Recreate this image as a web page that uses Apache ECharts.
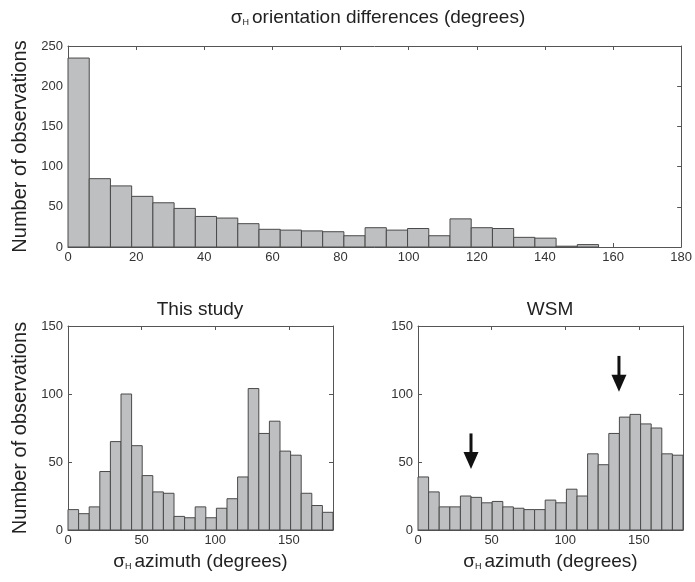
<!DOCTYPE html>
<html>
<head>
<meta charset="utf-8">
<script src="https://cdn.jsdelivr.net/npm/echarts@6/dist/echarts.min.js"></script>
<style>
html, body { margin: 0; padding: 0; background: #fff; }
#chart { width: 695px; height: 582px; }
</style>
</head>
<body>
<div id="chart"></div>
<script>
// 上图: 方向差直方图 (25 bins)
var diffBinWidth = 6.23;
var diffCounts = [235, 85, 76, 63, 55, 48, 38, 36, 29, 22, 21, 20, 19, 14, 24, 21, 23, 14, 35, 24, 23, 12, 11, 1, 3];

// 下图: 方位角直方图 (0-180, 25 bins)
var aziBinWidth = 7.2;
var studyCounts = [15, 12, 17, 43, 65, 100, 62, 40, 28, 27, 10, 9, 17, 9, 16, 23, 39, 104, 71, 80, 58, 55, 27, 18, 13];
var wsmCounts = [39, 28, 17, 17, 25, 24, 20, 21, 17, 16, 15, 15, 22, 20, 30, 25, 56, 48, 71, 83, 85, 78, 75, 56, 55];

// WSM 图中的箭头 (x, 箭尾, 箭头)
var arrowX = [36, 136.5];
var arrowTop = [71, 128];
var arrowTip = [44.8, 101.7];

var FONT = '"Liberation Sans", Arial, Helvetica, sans-serif';
var BOX = '#555';
var TXT = '#222';

// bins -> [start, end, count]
function toBins(counts, w) {
	var out = [];
	for (var i = 0; i < counts.length; i++) {
		out.push([i * w, (i + 1) * w, counts[i]]);
	}
	return out;
}

function renderBar(params, api) {
	var p0 = api.coord([api.value(0), api.value(2)]);
	var p1 = api.coord([api.value(1), 0]);
	return {
		type: 'rect',
		shape: { x: p0[0], y: p0[1], width: p1[0] - p0[0], height: p1[1] - p0[1] },
		style: { fill: '#bebfc1', stroke: '#4a4a4a', lineWidth: 1 }
	};
}

function renderArrow(params, api) {
	var top = api.coord([api.value(0), api.value(1)]);
	var tip = api.coord([api.value(0), api.value(2)]);
	var headH = 17, headW = 15;
	return {
		type: 'group',
		children: [{
			type: 'line',
			shape: { x1: top[0], y1: top[1], x2: tip[0], y2: tip[1] - headH + 2 },
			style: { stroke: '#111', lineWidth: 3 }
		}, {
			type: 'polygon',
			shape: { points: [[tip[0] - headW / 2, tip[1] - headH], [tip[0] + headW / 2, tip[1] - headH], [tip[0], tip[1]]] },
			style: { fill: '#111' }
		}]
	};
}

var sigmaRich = {
	s: { fontSize: 19, fontFamily: FONT, color: TXT },
	h: { fontSize: 9, fontFamily: FONT, color: TXT, verticalAlign: 'bottom', padding: [0, 3, 0, 0] }
};

function xAxisPair(grid, max, interval, name) {
	var main = {
		type: 'value', gridIndex: grid, position: 'bottom', min: 0, max: max, interval: interval,
		axisLine: { show: true, onZero: false, lineStyle: { color: BOX, width: 1 } },
		axisTick: { show: true, inside: true, length: 4, lineStyle: { color: BOX } },
		axisLabel: { color: '#333', fontSize: 13, fontFamily: FONT, margin: 4, showMaxLabel: interval === 20 },
		splitLine: { show: false }
	};
	if (name) {
		main.name = name;
		main.nameLocation = 'middle';
		main.nameGap = 22;
		main.nameTextStyle = { color: TXT, fontSize: 19, fontFamily: FONT, rich: sigmaRich };
	}
	var top = {
		type: 'value', gridIndex: grid, position: 'top', min: 0, max: max, interval: interval,
		axisLine: { show: true, onZero: false, lineStyle: { color: BOX, width: 1 } },
		axisTick: { show: true, inside: true, length: 4, lineStyle: { color: BOX } },
		axisLabel: { show: false },
		splitLine: { show: false }
	};
	return [main, top];
}

function yAxisPair(grid, max, withName) {
	var main = {
		type: 'value', gridIndex: grid, position: 'left', min: 0, max: max, interval: 50,
		axisLine: { show: true, onZero: false, lineStyle: { color: BOX, width: 1 } },
		axisTick: { show: true, inside: true, length: 4, lineStyle: { color: BOX } },
		axisLabel: { color: '#333', fontSize: 13, fontFamily: FONT, margin: 5 },
		splitLine: { show: false }
	};
	if (withName) {
		main.name = 'Number of observations';
		main.nameLocation = 'middle';
		main.nameGap = 38;
		main.nameTextStyle = { color: TXT, fontSize: 20, fontFamily: FONT };
	}
	var right = {
		type: 'value', gridIndex: grid, position: 'right', min: 0, max: max, interval: 50,
		axisLine: { show: true, onZero: false, lineStyle: { color: BOX, width: 1 } },
		axisTick: { show: true, inside: true, length: 4, lineStyle: { color: BOX } },
		axisLabel: { show: false },
		splitLine: { show: false }
	};
	return [main, right];
}

var azName = '{s|σ}{h|H}azimuth (degrees)';

var xAxes = [].concat(
	xAxisPair(0, 180, 20, null),
	xAxisPair(1, 180, 50, azName),
	xAxisPair(2, 180, 50, azName)
);
var yAxes = [].concat(yAxisPair(0, 250, true), yAxisPair(1, 150, true), yAxisPair(2, 150, false));

var arrowData = [];
for (var i = 0; i < arrowX.length; i++) {
	arrowData.push([arrowX[i], arrowTop[i], arrowTip[i]]);
}

var option = {
	animation: false,
	backgroundColor: '#fff',
	grid: [
		{ left: 68, top: 46, width: 616, height: 201 },
		{ left: 68, top: 326, width: 265, height: 204 },
		{ left: 418, top: 326, width: 265, height: 204 }
	],
	xAxis: xAxes,
	yAxis: yAxes,
	graphic: [{
		type: 'text', x: 378, y: 18,
		style: { text: '{s|σ}{h|H}orientation differences (degrees)', fontSize: 19, fontFamily: FONT, fill: TXT, align: 'center', verticalAlign: 'middle', rich: sigmaRich }
	}, {
		type: 'text', x: 200, y: 310,
		style: { text: 'This study', fontSize: 19, fontFamily: FONT, fill: TXT, align: 'center', verticalAlign: 'middle' }
	}, {
		type: 'text', x: 550, y: 310,
		style: { text: 'WSM', fontSize: 19, fontFamily: FONT, fill: TXT, align: 'center', verticalAlign: 'middle' }
	}],
	series: [{
		type: 'custom', xAxisIndex: 0, yAxisIndex: 0,
		renderItem: renderBar, encode: { x: [0, 1], y: 2 },
		data: toBins(diffCounts, diffBinWidth)
	}, {
		type: 'custom', xAxisIndex: 2, yAxisIndex: 2,
		renderItem: renderBar, encode: { x: [0, 1], y: 2 },
		data: toBins(studyCounts, aziBinWidth)
	}, {
		type: 'custom', xAxisIndex: 4, yAxisIndex: 4,
		renderItem: renderBar, encode: { x: [0, 1], y: 2 },
		data: toBins(wsmCounts, aziBinWidth)
	}, {
		type: 'custom', xAxisIndex: 4, yAxisIndex: 4,
		renderItem: renderArrow, encode: { x: 0, y: [1, 2] },
		data: arrowData
	}]
};

var myChart = echarts.init(document.getElementById('chart'));
myChart.setOption(option);
</script>
</body>
</html>
